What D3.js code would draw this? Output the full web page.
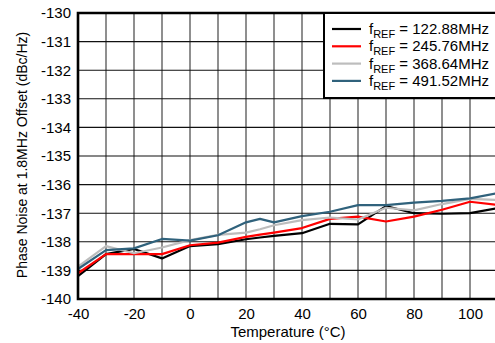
<!DOCTYPE html>
<html><head><meta charset="utf-8">
<script src="https://cdn.jsdelivr.net/npm/d3@7"></script>
<style>body{margin:0;background:#fff;}svg{display:block;font-family:"Liberation Sans",Arial,sans-serif;}</style>
</head><body>
<svg id="c" width="495" height="343"></svg>
<script>
const temps = [-40,-30,-20,-10,0,10,20,25,30,40,50,60,70,80,90,100,110];
const f122 = [-139.2,-138.43,-138.25,-138.58,-138.15,-138.08,-137.91,-137.85,-137.79,-137.7,-137.37,-137.39,-136.75,-137.0,-137.02,-137.0,-136.82];
const f245 = [-139.1,-138.43,-138.43,-138.43,-138.12,-138.03,-137.83,-137.75,-137.68,-137.52,-137.2,-137.12,-137.29,-137.12,-136.88,-136.6,-136.71];
const f368 = [-138.87,-138.15,-138.4,-138.2,-137.94,-137.76,-137.68,-137.56,-137.42,-137.24,-137.15,-137.22,-136.81,-136.9,-136.68,-136.5,-136.54];
const f491 = [-138.95,-138.29,-138.23,-137.9,-137.96,-137.77,-137.32,-137.2,-137.32,-137.1,-136.95,-136.72,-136.72,-136.63,-136.57,-136.48,-136.3];
const seriesNames = ["122.88MHz","245.76MHz","368.64MHz","491.52MHz"];
const seriesColors = ["#000000","#ff0000","#bdbdbd","#30627c"];
const xTickLabels = [-40,-20,0,20,40,60,80,100];
const yTickLabels = [-140,-139,-138,-137,-136,-135,-134,-133,-132,-131,-130];

const svg = d3.select("#c");
const L=78, T=13, B=299, R=498;
const x = d3.scaleLinear().domain([-40,110]).range([L,R]);
const y = d3.scaleLinear().domain([-140,-130]).range([B,T]);

// grid
const g = svg.append("g");
d3.range(-30,111,10).forEach(t=>{
  g.append("line").attr("x1",x(t)).attr("x2",x(t)).attr("y1",T).attr("y2",B)
   .attr("stroke","#333").attr("stroke-width",1.1);
});
yTickLabels.forEach(v=>{
  g.append("line").attr("x1",L).attr("x2",R).attr("y1",y(v)).attr("y2",y(v))
   .attr("stroke","#111").attr("stroke-width",1.1);
});

// axes labels via d3 axes
const fmt = d => String(d);
const xAxis = d3.axisBottom(x).tickValues(xTickLabels).tickSize(0).tickPadding(9).tickFormat(fmt);
const yAxis = d3.axisLeft(y).tickValues(yTickLabels).tickSize(0).tickPadding(7).tickFormat(fmt);
const gx = svg.append("g").attr("transform",`translate(0,${B})`).call(xAxis);
const gy = svg.append("g").attr("transform",`translate(${L},0)`).call(yAxis);
[gx,gy].forEach(a=>{a.select(".domain").remove(); a.selectAll("text").attr("font-size",15).attr("fill","#000").attr("font-family","Liberation Sans, Arial, sans-serif");});

// series
const data = [f122,f245,f368,f491];
const line = d3.line().x((d,i)=>x(temps[i])).y(d=>y(d));
data.forEach((s,k)=>{
  svg.append("path").datum(s).attr("d",line).attr("fill","none")
    .attr("stroke",seriesColors[k]).attr("stroke-width",2.2).attr("stroke-linejoin","round");
});

// frame
svg.append("path").attr("d",`M${R},${T}H${L}V${B}H${R}`).attr("fill","none").attr("stroke","#000").attr("stroke-width",2.6);

// legend
const lg = svg.append("g");
lg.append("rect").attr("x",324).attr("y",13).attr("width",180).attr("height",85)
  .attr("fill","#fff").attr("stroke","#000").attr("stroke-width",2);
seriesNames.forEach((n,i)=>{
  const yy = 29 + i*17.3;
  lg.append("line").attr("x1",332).attr("x2",361).attr("y1",yy).attr("y2",yy)
    .attr("stroke",seriesColors[i]).attr("stroke-width",2.2);
  const t = lg.append("text").attr("x",369).attr("y",yy+5).attr("font-size",15).attr("fill","#000");
  t.append("tspan").text("f");
  t.append("tspan").attr("font-size",11).attr("dy",4).text("REF");
  t.append("tspan").attr("dy",-4).text(" = " + n);
});

// axis titles
svg.append("text").attr("x",288).attr("y",337).attr("text-anchor","middle").attr("font-size",15).text("Temperature (°C)");
svg.append("text").attr("transform","translate(27,155) rotate(-90)").attr("text-anchor","middle").attr("font-size",14).text("Phase Noise at 1.8MHz Offset (dBc/Hz)");
</script>
</body></html>
